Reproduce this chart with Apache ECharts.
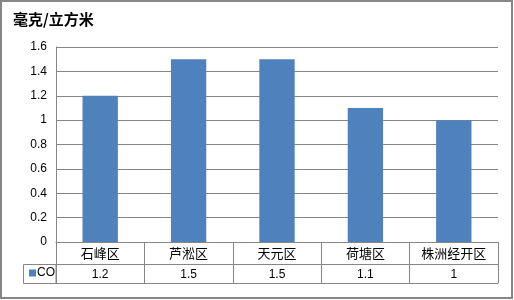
<!DOCTYPE html>
<html>
<head>
<meta charset="utf-8">
<script src="https://cdn.jsdelivr.net/npm/echarts@6/dist/echarts.min.js"></script>
<style>
html,body{margin:0;padding:0;background:#fff;}
#c{width:514px;height:300px;}
</style>
</head>
<body>
<div id="c"></div>
<script>
var titleText = '毫克/立方米';
var seriesName = 'CO';
var categories = ['石峰区', '芦淞区', '天元区', '荷塘区', '株洲经开区'];
var values = [1.2, 1.5, 1.5, 1.1, 1];
var yTicks = { min: 0, max: 1.6, interval: 0.2 };

var gray = '#868686';
var barColor = '#4F81BD';
var gridLeft = 56, gridRight = 16, gridTop = 47, gridBottom = 58;
var rowH1 = 22, rowH2 = 19;

var chart = echarts.init(document.getElementById('c'), null, { renderer: 'canvas' });
chart.setOption({
  backgroundColor: '#fff',
  animation: false,
  title: {
    text: titleText,
    left: 8, top: 7,
    textStyle: { fontFamily: 'Noto Sans CJK SC', fontSize: 15, fontWeight: 'bold', color: '#000' }
  },
  legend: {
    data: [seriesName],
    left: 29, top: 266, padding: 0, itemGap: 0,
    icon: 'rect', itemWidth: 7, itemHeight: 7,
    textStyle: { fontFamily: 'Liberation Sans', fontSize: 12, lineHeight: 14, color: '#000', padding: [0, 0, 0, -4] }
  },
  grid: { left: gridLeft, right: gridRight, top: gridTop, bottom: gridBottom },
  xAxis: [
    {
      type: 'category', data: categories, position: 'bottom',
      axisLine: { show: true, lineStyle: { color: gray } },
      axisTick: { show: true, length: rowH1 + rowH2, lineStyle: { color: gray } },
      axisLabel: { margin: 4, fontFamily: 'Noto Sans CJK SC', fontSize: 13, lineHeight: 14, color: '#000' }
    },
    {
      type: 'category', data: values.map(String), position: 'bottom', offset: rowH1,
      axisLine: { show: true, lineStyle: { color: gray } },
      axisTick: { show: false },
      axisLabel: { margin: 4, fontFamily: 'Liberation Sans', fontSize: 12, lineHeight: 13, color: '#000' }
    },
    {
      type: 'category', data: categories, position: 'bottom', offset: rowH1 + rowH2,
      axisLine: { show: true, lineStyle: { color: gray } },
      axisTick: { show: false },
      axisLabel: { show: false }
    }
  ],
  yAxis: {
    type: 'value', min: yTicks.min, max: yTicks.max, interval: yTicks.interval,
    axisLine: { show: true, lineStyle: { color: gray } },
    axisTick: { show: false },
    splitLine: { show: true, lineStyle: { color: gray } },
    axisLabel: { margin: 9, fontFamily: 'Liberation Sans', fontSize: 12, color: '#000' }
  },
  series: [{
    name: seriesName, type: 'bar', data: values, xAxisIndex: 0,
    barWidth: '40%', itemStyle: { color: barColor }
  }],
  graphic: [
    { type: 'rect', shape: { x: 1, y: 1, width: 511, height: 297 }, style: { fill: 'none', stroke: gray, lineWidth: 2 }, silent: true, z: -1 },
    { type: 'rect', shape: { x: 23.5, y: 300 - gridBottom + rowH1 + 0.5, width: gridLeft - 23.5, height: rowH2 }, style: { fill: 'none', stroke: gray, lineWidth: 1 }, silent: true }
  ]
});
</script>
</body>
</html>
